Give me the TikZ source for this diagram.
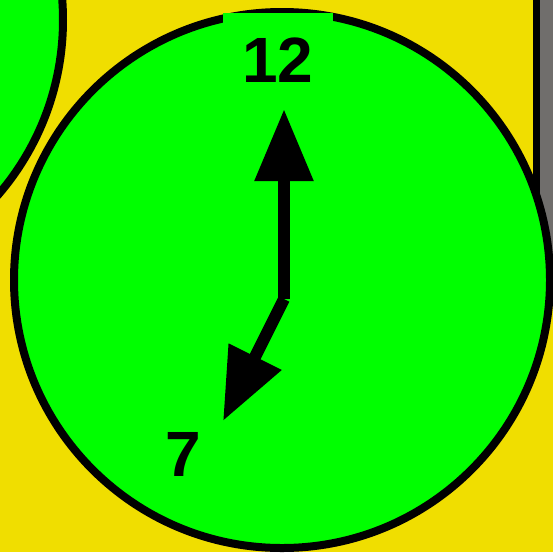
\documentclass[tikz,border=0pt]{standalone}
\usepackage{fontspec}
\setmainfont{Liberation Sans}
\usetikzlibrary{arrows.meta}
\definecolor{clockyellow}{RGB}{240,222,0}
\definecolor{clockgreen}{RGB}{0,255,0}
\definecolor{panelgray}{RGB}{112,110,108}

\begin{document}
\begin{tikzpicture}[x=1pt,y=-1pt,line width=8pt,
 numeral/.style={font=\bfseries\fontsize{64}{64}\selectfont,inner sep=0pt},
 hand/.style={line width=12pt,-{Triangle[length=72pt,width=56pt]}}]
\fill[clockyellow] (0,0) rectangle (553,552);
\useasboundingbox (0,0) rectangle (553,552);
% side panel
\draw[line width=7pt,fill=panelgray] (536.5,-10) rectangle (580,300);
% neighbouring clock
\draw[fill=clockgreen] (-205,20) circle[radius=268pt];
% clock face
\draw[fill=clockgreen] (282,280) circle[radius=268pt];
\node[numeral,fill=clockgreen,minimum width=110pt,minimum height=94pt] (twelve) at (278,60) {12};
\node[numeral] (seven) at (183,454) {7};
\coordinate (pivot) at (284,299);
\coordinate (minutetip) at (284,109);
\coordinate (hourtip) at (223,421);
\draw[hand] (pivot) -- (minutetip);
\draw[hand] (pivot) -- (hourtip);
\end{tikzpicture}
\end{document}
